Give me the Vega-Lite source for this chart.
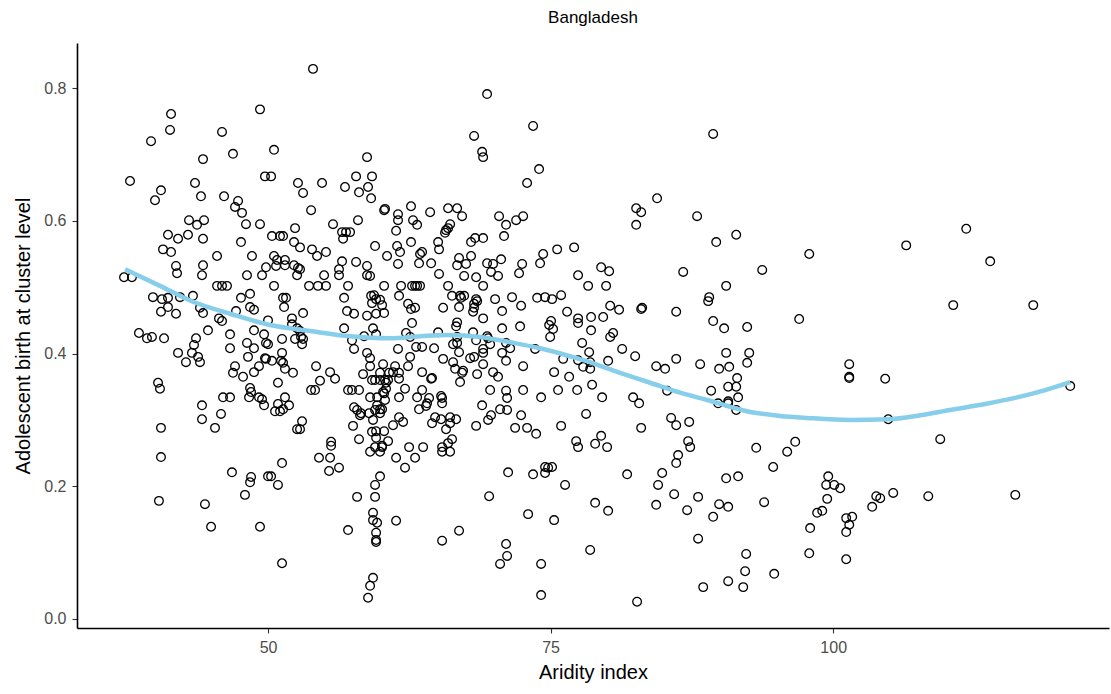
{
  "$schema": "https://vega.github.io/schema/vega-lite/v6.json",
  "autosize": {"type": "none"},
  "padding": {"left": 77, "top": 43, "right": 2, "bottom": 66},
  "width": 1032,
  "height": 585,
  "background": "white",
  "config": {
    "view": {"stroke": null},
    "font": "Liberation Sans",
    "axis": {"grid": false, "domainColor": "black", "domainWidth": 1.6, "tickColor": "#333333", "tickWidth": 1.1, "tickSize": 5, "labelColor": "#4d4d4d", "labelFontSize": 16, "labelFont": "Liberation Sans", "titleFont": "Liberation Sans", "titleFontSize": 20, "titleFontWeight": "normal", "titleColor": "black"}
  },
  "title": {"text": "Bangladesh", "fontSize": 17, "fontWeight": "normal", "font": "Liberation Sans", "color": "black", "anchor": "middle", "offset": 16},
  "datasets": {
    "points": [
      {"aridity":41.42,"abr":0.761},{"aridity":41.33,"abr":0.737},{"aridity":39.65,"abr":0.720},{"aridity":45.93,"abr":0.734},{"aridity":49.29,"abr":0.768},
      {"aridity":44.25,"abr":0.693},{"aridity":46.90,"abr":0.701},{"aridity":37.79,"abr":0.660},{"aridity":40.53,"abr":0.646},{"aridity":40.00,"abr":0.631},
      {"aridity":43.54,"abr":0.657},{"aridity":44.07,"abr":0.637},{"aridity":46.11,"abr":0.637},{"aridity":47.35,"abr":0.630},{"aridity":47.08,"abr":0.621},
      {"aridity":47.70,"abr":0.612},{"aridity":49.73,"abr":0.667},{"aridity":43.01,"abr":0.601},{"aridity":43.72,"abr":0.594},{"aridity":44.34,"abr":0.601},
      {"aridity":48.05,"abr":0.595},{"aridity":49.29,"abr":0.595},{"aridity":41.15,"abr":0.579},{"aridity":42.04,"abr":0.573},{"aridity":42.92,"abr":0.579},
      {"aridity":44.25,"abr":0.573},{"aridity":47.61,"abr":0.568},{"aridity":40.71,"abr":0.557},{"aridity":41.42,"abr":0.553},{"aridity":45.49,"abr":0.547},
      {"aridity":48.58,"abr":0.547},{"aridity":41.86,"abr":0.532},{"aridity":41.95,"abr":0.521},{"aridity":44.25,"abr":0.533},{"aridity":44.16,"abr":0.518},
      {"aridity":48.14,"abr":0.518},{"aridity":49.82,"abr":0.530},{"aridity":49.47,"abr":0.518},{"aridity":37.26,"abr":0.515},{"aridity":37.96,"abr":0.515},
      {"aridity":45.49,"abr":0.502},{"aridity":45.93,"abr":0.502},{"aridity":46.37,"abr":0.502},{"aridity":39.82,"abr":0.485},{"aridity":40.62,"abr":0.482},
      {"aridity":41.15,"abr":0.484},{"aridity":42.21,"abr":0.485},{"aridity":43.36,"abr":0.487},{"aridity":48.41,"abr":0.490},{"aridity":47.61,"abr":0.484},
      {"aridity":48.41,"abr":0.470},{"aridity":48.76,"abr":0.466},{"aridity":40.53,"abr":0.463},{"aridity":41.15,"abr":0.470},{"aridity":41.86,"abr":0.460},
      {"aridity":43.98,"abr":0.469},{"aridity":44.25,"abr":0.461},{"aridity":45.66,"abr":0.453},{"aridity":45.93,"abr":0.449},{"aridity":47.17,"abr":0.464},
      {"aridity":38.58,"abr":0.431},{"aridity":39.29,"abr":0.423},{"aridity":39.73,"abr":0.425},{"aridity":40.80,"abr":0.423},{"aridity":43.63,"abr":0.423},
      {"aridity":44.69,"abr":0.435},{"aridity":46.64,"abr":0.429},{"aridity":48.76,"abr":0.435},{"aridity":49.65,"abr":0.429},
      {"aridity":43.45,"abr":0.413},{"aridity":42.04,"abr":0.401},{"aridity":43.27,"abr":0.401},{"aridity":43.81,"abr":0.395},{"aridity":43.98,"abr":0.387},
      {"aridity":42.74,"abr":0.387},{"aridity":46.64,"abr":0.408},{"aridity":48.14,"abr":0.416},{"aridity":48.76,"abr":0.408},{"aridity":48.23,"abr":0.395},
      {"aridity":49.82,"abr":0.416},{"aridity":49.82,"abr":0.392},{"aridity":47.08,"abr":0.381},{"aridity":46.90,"abr":0.371},{"aridity":47.79,"abr":0.365},
      {"aridity":48.76,"abr":0.372},{"aridity":49.20,"abr":0.381},{"aridity":40.27,"abr":0.356},{"aridity":40.44,"abr":0.347},{"aridity":48.41,"abr":0.348},
      {"aridity":48.50,"abr":0.342},{"aridity":46.02,"abr":0.334},{"aridity":46.64,"abr":0.334},{"aridity":48.32,"abr":0.334},{"aridity":49.20,"abr":0.334},
      {"aridity":49.65,"abr":0.322},{"aridity":44.16,"abr":0.322},{"aridity":45.84,"abr":0.309},{"aridity":44.16,"abr":0.301},{"aridity":40.53,"abr":0.288},
      {"aridity":45.31,"abr":0.288},{"aridity":40.53,"abr":0.244},{"aridity":46.81,"abr":0.221},{"aridity":48.50,"abr":0.214},{"aridity":48.41,"abr":0.206},
      {"aridity":50.00,"abr":0.215},{"aridity":47.96,"abr":0.187},{"aridity":40.35,"abr":0.178},{"aridity":44.42,"abr":0.173},{"aridity":44.96,"abr":0.139},
      {"aridity":49.29,"abr":0.139},
      {"aridity":53.98,"abr":0.829},{"aridity":50.53,"abr":0.707},{"aridity":58.76,"abr":0.696},{"aridity":50.27,"abr":0.667},{"aridity":52.65,"abr":0.657},
      {"aridity":54.78,"abr":0.657},{"aridity":53.10,"abr":0.642},{"aridity":56.81,"abr":0.651},{"aridity":57.79,"abr":0.667},{"aridity":59.20,"abr":0.667},
      {"aridity":58.85,"abr":0.651},{"aridity":58.05,"abr":0.643},{"aridity":59.12,"abr":0.634},{"aridity":60.27,"abr":0.616},{"aridity":53.81,"abr":0.616},
      {"aridity":52.39,"abr":0.589},{"aridity":55.75,"abr":0.595},{"aridity":57.96,"abr":0.601},{"aridity":50.35,"abr":0.577},{"aridity":51.06,"abr":0.577},
      {"aridity":51.33,"abr":0.577},{"aridity":56.55,"abr":0.583},{"aridity":56.90,"abr":0.583},{"aridity":57.26,"abr":0.583},{"aridity":56.64,"abr":0.573},
      {"aridity":52.30,"abr":0.568},{"aridity":52.83,"abr":0.560},{"aridity":53.89,"abr":0.557},{"aridity":54.34,"abr":0.547},{"aridity":55.13,"abr":0.553},
      {"aridity":59.47,"abr":0.562},{"aridity":60.53,"abr":0.547},{"aridity":50.53,"abr":0.547},{"aridity":50.71,"abr":0.532},{"aridity":51.50,"abr":0.541},
      {"aridity":51.50,"abr":0.533},{"aridity":50.80,"abr":0.541},{"aridity":52.30,"abr":0.533},{"aridity":52.65,"abr":0.529},{"aridity":52.83,"abr":0.527},
      {"aridity":52.57,"abr":0.518},{"aridity":56.55,"abr":0.539},{"aridity":57.79,"abr":0.538},{"aridity":56.28,"abr":0.527},{"aridity":56.28,"abr":0.518},
      {"aridity":58.76,"abr":0.532},{"aridity":58.76,"abr":0.518},{"aridity":59.03,"abr":0.517},{"aridity":54.96,"abr":0.518},{"aridity":50.53,"abr":0.502},
      {"aridity":53.63,"abr":0.502},{"aridity":54.42,"abr":0.502},{"aridity":55.13,"abr":0.502},{"aridity":57.08,"abr":0.502},{"aridity":60.27,"abr":0.502},
      {"aridity":51.33,"abr":0.484},{"aridity":51.59,"abr":0.484},{"aridity":51.42,"abr":0.470},{"aridity":56.73,"abr":0.484},{"aridity":59.12,"abr":0.487},
      {"aridity":59.38,"abr":0.488},{"aridity":59.56,"abr":0.482},{"aridity":59.20,"abr":0.476},{"aridity":59.91,"abr":0.481},{"aridity":60.09,"abr":0.473},
      {"aridity":60.27,"abr":0.461},{"aridity":59.56,"abr":0.460},{"aridity":56.99,"abr":0.464},{"aridity":57.61,"abr":0.460},{"aridity":58.76,"abr":0.457},
      {"aridity":53.10,"abr":0.461},{"aridity":52.12,"abr":0.453},{"aridity":52.12,"abr":0.444},{"aridity":52.57,"abr":0.438},{"aridity":52.83,"abr":0.434},
      {"aridity":50.00,"abr":0.450},{"aridity":56.73,"abr":0.438},{"aridity":59.29,"abr":0.438},{"aridity":59.56,"abr":0.429},{"aridity":51.24,"abr":0.422},
      {"aridity":52.39,"abr":0.422},{"aridity":53.10,"abr":0.422},{"aridity":57.43,"abr":0.420},{"aridity":58.50,"abr":0.426},
      {"aridity":50.00,"abr":0.414},{"aridity":53.01,"abr":0.414},{"aridity":52.92,"abr":0.425},{"aridity":51.24,"abr":0.401},{"aridity":49.73,"abr":0.393},
      {"aridity":50.35,"abr":0.389},{"aridity":51.15,"abr":0.389},{"aridity":51.33,"abr":0.386},{"aridity":51.50,"abr":0.377},{"aridity":52.21,"abr":0.371},
      {"aridity":50.88,"abr":0.356},{"aridity":54.25,"abr":0.381},{"aridity":54.60,"abr":0.359},{"aridity":53.81,"abr":0.345},{"aridity":54.16,"abr":0.345},
      {"aridity":55.49,"abr":0.372},{"aridity":55.93,"abr":0.362},{"aridity":49.47,"abr":0.331},{"aridity":50.88,"abr":0.324},{"aridity":50.62,"abr":0.313},
      {"aridity":51.06,"abr":0.313},{"aridity":51.33,"abr":0.316},{"aridity":51.50,"abr":0.334},{"aridity":51.86,"abr":0.322},{"aridity":53.01,"abr":0.298},
      {"aridity":52.57,"abr":0.286},{"aridity":52.83,"abr":0.286},{"aridity":55.58,"abr":0.267},{"aridity":55.58,"abr":0.261},{"aridity":54.51,"abr":0.243},
      {"aridity":55.49,"abr":0.243},{"aridity":55.40,"abr":0.223},{"aridity":56.28,"abr":0.228},{"aridity":51.24,"abr":0.235},{"aridity":50.27,"abr":0.215},
      {"aridity":50.88,"abr":0.202},{"aridity":57.08,"abr":0.134},{"aridity":51.24,"abr":0.084},{"aridity":57.88,"abr":0.184},{"aridity":59.91,"abr":0.215},
      {"aridity":59.47,"abr":0.202},{"aridity":59.47,"abr":0.184},{"aridity":59.29,"abr":0.160},{"aridity":59.29,"abr":0.149},{"aridity":59.65,"abr":0.145},
      {"aridity":59.56,"abr":0.130},{"aridity":59.56,"abr":0.119},{"aridity":59.56,"abr":0.116},{"aridity":59.29,"abr":0.062},{"aridity":59.03,"abr":0.050},
      {"aridity":58.85,"abr":0.032},{"aridity":57.43,"abr":0.345},{"aridity":58.05,"abr":0.345},{"aridity":57.08,"abr":0.345},{"aridity":58.41,"abr":0.369},
      {"aridity":59.20,"abr":0.360},{"aridity":59.47,"abr":0.360},{"aridity":59.91,"abr":0.360},{"aridity":60.35,"abr":0.360},{"aridity":60.62,"abr":0.360},
      {"aridity":59.91,"abr":0.371},{"aridity":60.18,"abr":0.384},{"aridity":59.03,"abr":0.381},{"aridity":58.76,"abr":0.401},{"aridity":59.03,"abr":0.393},
      {"aridity":57.61,"abr":0.407},{"aridity":57.61,"abr":0.319},{"aridity":57.88,"abr":0.315},{"aridity":58.14,"abr":0.307},{"aridity":58.23,"abr":0.310},
      {"aridity":58.94,"abr":0.310},{"aridity":59.47,"abr":0.315},{"aridity":59.91,"abr":0.310},{"aridity":59.03,"abr":0.334},{"aridity":59.65,"abr":0.334},
      {"aridity":60.27,"abr":0.340},{"aridity":60.35,"abr":0.330},{"aridity":59.65,"abr":0.322},{"aridity":59.91,"abr":0.316},{"aridity":60.09,"abr":0.316},
      {"aridity":59.29,"abr":0.300},{"aridity":57.52,"abr":0.291},{"aridity":59.20,"abr":0.282},{"aridity":59.56,"abr":0.283},{"aridity":60.27,"abr":0.283},
      {"aridity":59.56,"abr":0.273},{"aridity":58.05,"abr":0.271},{"aridity":59.03,"abr":0.252},{"aridity":59.47,"abr":0.259},{"aridity":60.09,"abr":0.259},
      {"aridity":59.91,"abr":0.252},{"aridity":60.62,"abr":0.268},
      {"aridity":69.38,"abr":0.791},{"aridity":68.23,"abr":0.728},{"aridity":68.94,"abr":0.704},{"aridity":69.03,"abr":0.696},{"aridity":60.35,"abr":0.618},
      {"aridity":61.50,"abr":0.610},{"aridity":61.50,"abr":0.601},{"aridity":62.65,"abr":0.622},{"aridity":62.83,"abr":0.601},{"aridity":63.19,"abr":0.594},
      {"aridity":64.34,"abr":0.613},{"aridity":65.93,"abr":0.619},{"aridity":66.73,"abr":0.619},{"aridity":67.17,"abr":0.607},{"aridity":66.11,"abr":0.595},
      {"aridity":65.93,"abr":0.589},{"aridity":65.75,"abr":0.586},{"aridity":65.66,"abr":0.582},{"aridity":61.33,"abr":0.585},{"aridity":62.65,"abr":0.568},
      {"aridity":65.05,"abr":0.568},{"aridity":65.13,"abr":0.557},{"aridity":67.96,"abr":0.568},{"aridity":68.32,"abr":0.574},{"aridity":69.03,"abr":0.574},
      {"aridity":70.44,"abr":0.607},{"aridity":71.06,"abr":0.594},{"aridity":70.88,"abr":0.577},{"aridity":61.42,"abr":0.562},{"aridity":61.68,"abr":0.553},
      {"aridity":61.50,"abr":0.535},{"aridity":63.45,"abr":0.550},{"aridity":63.63,"abr":0.553},{"aridity":63.36,"abr":0.536},{"aridity":64.43,"abr":0.536},
      {"aridity":66.90,"abr":0.544},{"aridity":66.73,"abr":0.533},{"aridity":67.52,"abr":0.535},{"aridity":67.96,"abr":0.547},{"aridity":69.38,"abr":0.536},
      {"aridity":69.91,"abr":0.535},{"aridity":70.62,"abr":0.542},{"aridity":69.73,"abr":0.523},{"aridity":70.35,"abr":0.517},{"aridity":65.13,"abr":0.520},
      {"aridity":67.35,"abr":0.517},{"aridity":68.41,"abr":0.515},{"aridity":61.77,"abr":0.502},{"aridity":62.74,"abr":0.502},{"aridity":63.01,"abr":0.502},
      {"aridity":63.19,"abr":0.502},{"aridity":63.45,"abr":0.502},{"aridity":65.93,"abr":0.502},{"aridity":69.03,"abr":0.502},{"aridity":61.59,"abr":0.487},
      {"aridity":62.39,"abr":0.475},{"aridity":62.65,"abr":0.467},{"aridity":63.01,"abr":0.469},{"aridity":65.49,"abr":0.469},{"aridity":66.28,"abr":0.487},
      {"aridity":66.99,"abr":0.487},{"aridity":67.35,"abr":0.487},{"aridity":67.08,"abr":0.484},{"aridity":66.90,"abr":0.470},{"aridity":68.41,"abr":0.482},
      {"aridity":68.50,"abr":0.479},{"aridity":68.23,"abr":0.475},{"aridity":68.23,"abr":0.469},{"aridity":68.14,"abr":0.463},{"aridity":70.09,"abr":0.482},
      {"aridity":70.71,"abr":0.464},{"aridity":62.74,"abr":0.446},{"aridity":66.73,"abr":0.447},{"aridity":66.64,"abr":0.441},{"aridity":69.03,"abr":0.453},
      {"aridity":70.71,"abr":0.438},{"aridity":62.21,"abr":0.431},{"aridity":62.57,"abr":0.425},{"aridity":65.05,"abr":0.432},{"aridity":66.73,"abr":0.425},
      {"aridity":68.14,"abr":0.432},{"aridity":69.38,"abr":0.426},
      {"aridity":63.10,"abr":0.410},{"aridity":61.50,"abr":0.407},{"aridity":63.63,"abr":0.410},{"aridity":64.69,"abr":0.408},{"aridity":66.37,"abr":0.414},
      {"aridity":66.73,"abr":0.416},{"aridity":62.57,"abr":0.395},{"aridity":62.39,"abr":0.381},{"aridity":65.49,"abr":0.392},{"aridity":66.37,"abr":0.387},
      {"aridity":66.90,"abr":0.402},{"aridity":67.88,"abr":0.393},{"aridity":68.23,"abr":0.395},{"aridity":69.03,"abr":0.401},{"aridity":69.03,"abr":0.407},
      {"aridity":69.65,"abr":0.414},{"aridity":69.47,"abr":0.423},{"aridity":68.41,"abr":0.420},{"aridity":70.71,"abr":0.401},{"aridity":71.06,"abr":0.416},
      {"aridity":71.06,"abr":0.389},{"aridity":69.03,"abr":0.384},{"aridity":61.24,"abr":0.381},{"aridity":60.71,"abr":0.371},{"aridity":61.06,"abr":0.372},
      {"aridity":61.59,"abr":0.371},{"aridity":61.59,"abr":0.362},{"aridity":60.44,"abr":0.356},{"aridity":60.18,"abr":0.342},{"aridity":60.44,"abr":0.347},
      {"aridity":63.63,"abr":0.372},{"aridity":64.43,"abr":0.362},{"aridity":64.51,"abr":0.363},{"aridity":66.55,"abr":0.377},{"aridity":67.26,"abr":0.374},
      {"aridity":67.17,"abr":0.371},{"aridity":66.99,"abr":0.357},{"aridity":68.50,"abr":0.369},{"aridity":69.91,"abr":0.372},{"aridity":70.35,"abr":0.365},
      {"aridity":62.12,"abr":0.347},{"aridity":63.63,"abr":0.345},{"aridity":61.59,"abr":0.334},{"aridity":63.19,"abr":0.334},{"aridity":63.36,"abr":0.316},
      {"aridity":64.07,"abr":0.325},{"aridity":64.25,"abr":0.333},{"aridity":63.98,"abr":0.321},{"aridity":65.31,"abr":0.336},{"aridity":65.40,"abr":0.333},
      {"aridity":65.40,"abr":0.325},{"aridity":69.65,"abr":0.345},{"aridity":71.06,"abr":0.344},{"aridity":71.15,"abr":0.333},{"aridity":71.15,"abr":0.315},
      {"aridity":68.94,"abr":0.322},{"aridity":69.73,"abr":0.307},{"aridity":69.47,"abr":0.300},{"aridity":70.53,"abr":0.316},{"aridity":61.59,"abr":0.304},
      {"aridity":61.95,"abr":0.297},{"aridity":61.06,"abr":0.292},{"aridity":64.51,"abr":0.295},{"aridity":64.78,"abr":0.304},{"aridity":65.31,"abr":0.301},
      {"aridity":66.11,"abr":0.304},{"aridity":66.64,"abr":0.301},{"aridity":66.11,"abr":0.295},{"aridity":65.75,"abr":0.286},{"aridity":68.41,"abr":0.291},
      {"aridity":60.09,"abr":0.261},{"aridity":62.48,"abr":0.259},{"aridity":63.72,"abr":0.259},{"aridity":66.28,"abr":0.271},{"aridity":65.93,"abr":0.265},
      {"aridity":65.40,"abr":0.259},{"aridity":65.40,"abr":0.252},{"aridity":66.11,"abr":0.252},{"aridity":61.33,"abr":0.243},{"aridity":63.01,"abr":0.243},
      {"aridity":62.12,"abr":0.228},{"aridity":71.24,"abr":0.221},{"aridity":69.56,"abr":0.185},{"aridity":61.33,"abr":0.148},{"aridity":66.90,"abr":0.133},
      {"aridity":65.40,"abr":0.118},{"aridity":71.06,"abr":0.113},{"aridity":71.15,"abr":0.095},{"aridity":70.53,"abr":0.083},
      {"aridity":73.45,"abr":0.743},{"aridity":73.98,"abr":0.678},{"aridity":72.92,"abr":0.657},{"aridity":82.57,"abr":0.619},{"aridity":83.01,"abr":0.613},
      {"aridity":82.57,"abr":0.594},{"aridity":71.95,"abr":0.601},{"aridity":72.57,"abr":0.607},{"aridity":74.34,"abr":0.550},{"aridity":74.07,"abr":0.536},
      {"aridity":75.58,"abr":0.557},{"aridity":77.08,"abr":0.560},{"aridity":72.48,"abr":0.535},{"aridity":72.21,"abr":0.521},{"aridity":77.43,"abr":0.518},
      {"aridity":78.32,"abr":0.502},{"aridity":79.47,"abr":0.530},{"aridity":80.18,"abr":0.524},{"aridity":79.91,"abr":0.502},{"aridity":71.59,"abr":0.485},
      {"aridity":72.39,"abr":0.472},{"aridity":72.30,"abr":0.441},{"aridity":73.81,"abr":0.484},{"aridity":74.51,"abr":0.485},{"aridity":75.13,"abr":0.482},
      {"aridity":75.93,"abr":0.488},{"aridity":76.46,"abr":0.463},{"aridity":75.04,"abr":0.449},{"aridity":74.87,"abr":0.443},{"aridity":75.22,"abr":0.437},
      {"aridity":74.96,"abr":0.425},{"aridity":77.43,"abr":0.453},{"aridity":77.43,"abr":0.446},{"aridity":78.58,"abr":0.455},{"aridity":79.65,"abr":0.455},
      {"aridity":78.58,"abr":0.435},{"aridity":80.27,"abr":0.472},{"aridity":81.06,"abr":0.466},{"aridity":80.27,"abr":0.425},{"aridity":80.53,"abr":0.431},
      {"aridity":77.79,"abr":0.416},{"aridity":83.10,"abr":0.469},{"aridity":83.01,"abr":0.467},
      {"aridity":78.41,"abr":0.402},{"aridity":81.33,"abr":0.407},{"aridity":82.48,"abr":0.396},{"aridity":80.09,"abr":0.389},{"aridity":71.42,"abr":0.408},
      {"aridity":73.63,"abr":0.407},{"aridity":72.57,"abr":0.381},{"aridity":76.11,"abr":0.392},{"aridity":77.43,"abr":0.390},{"aridity":77.88,"abr":0.380},
      {"aridity":78.50,"abr":0.387},{"aridity":78.50,"abr":0.377},{"aridity":75.31,"abr":0.372},{"aridity":76.64,"abr":0.365},{"aridity":72.57,"abr":0.345},
      {"aridity":74.16,"abr":0.334},{"aridity":75.66,"abr":0.345},{"aridity":77.35,"abr":0.345},{"aridity":78.67,"abr":0.353},{"aridity":79.56,"abr":0.334},
      {"aridity":82.30,"abr":0.334},{"aridity":82.83,"abr":0.325},{"aridity":72.39,"abr":0.307},{"aridity":78.14,"abr":0.309},{"aridity":71.86,"abr":0.288},
      {"aridity":72.92,"abr":0.288},{"aridity":73.72,"abr":0.279},{"aridity":75.93,"abr":0.291},{"aridity":77.26,"abr":0.268},{"aridity":77.43,"abr":0.259},
      {"aridity":78.94,"abr":0.264},{"aridity":79.47,"abr":0.276},{"aridity":80.00,"abr":0.259},{"aridity":83.01,"abr":0.288},{"aridity":73.45,"abr":0.218},
      {"aridity":74.51,"abr":0.229},{"aridity":74.51,"abr":0.220},{"aridity":74.78,"abr":0.228},{"aridity":75.13,"abr":0.229},{"aridity":76.28,"abr":0.202},
      {"aridity":81.77,"abr":0.218},{"aridity":78.94,"abr":0.175},{"aridity":80.09,"abr":0.163},{"aridity":73.01,"abr":0.158},{"aridity":75.31,"abr":0.149},
      {"aridity":74.16,"abr":0.083},{"aridity":78.50,"abr":0.104},{"aridity":74.16,"abr":0.036},{"aridity":82.65,"abr":0.026},
      {"aridity":89.38,"abr":0.731},{"aridity":84.42,"abr":0.634},{"aridity":87.96,"abr":0.607},{"aridity":89.65,"abr":0.568},{"aridity":91.42,"abr":0.579},
      {"aridity":97.88,"abr":0.550},{"aridity":86.73,"abr":0.523},{"aridity":93.72,"abr":0.526},{"aridity":90.53,"abr":0.502},{"aridity":89.03,"abr":0.485},
      {"aridity":88.94,"abr":0.479},{"aridity":86.11,"abr":0.463},{"aridity":89.38,"abr":0.449},{"aridity":90.35,"abr":0.438},{"aridity":92.39,"abr":0.440},
      {"aridity":96.99,"abr":0.452},
      {"aridity":90.53,"abr":0.401},{"aridity":92.57,"abr":0.401},{"aridity":92.39,"abr":0.386},{"aridity":84.34,"abr":0.381},{"aridity":85.13,"abr":0.377},
      {"aridity":86.11,"abr":0.392},{"aridity":88.23,"abr":0.384},{"aridity":89.91,"abr":0.377},{"aridity":90.80,"abr":0.380},{"aridity":91.50,"abr":0.363},
      {"aridity":90.71,"abr":0.350},{"aridity":91.42,"abr":0.350},{"aridity":91.59,"abr":0.334},{"aridity":89.20,"abr":0.344},{"aridity":85.31,"abr":0.344},
      {"aridity":89.82,"abr":0.325},{"aridity":90.71,"abr":0.328},{"aridity":90.71,"abr":0.325},{"aridity":91.42,"abr":0.315},{"aridity":101.42,"abr":0.384},
      {"aridity":101.42,"abr":0.365},{"aridity":101.42,"abr":0.363},{"aridity":85.66,"abr":0.303},{"aridity":86.11,"abr":0.292},{"aridity":87.26,"abr":0.297},
      {"aridity":87.17,"abr":0.268},{"aridity":87.35,"abr":0.259},{"aridity":86.28,"abr":0.247},{"aridity":86.11,"abr":0.235},{"aridity":93.19,"abr":0.258},
      {"aridity":96.64,"abr":0.267},{"aridity":95.93,"abr":0.252},{"aridity":94.69,"abr":0.229},{"aridity":84.87,"abr":0.220},{"aridity":84.51,"abr":0.202},
      {"aridity":85.93,"abr":0.188},{"aridity":84.34,"abr":0.172},{"aridity":87.08,"abr":0.164},{"aridity":88.05,"abr":0.184},{"aridity":90.53,"abr":0.212},
      {"aridity":91.59,"abr":0.215},{"aridity":89.91,"abr":0.173},{"aridity":90.71,"abr":0.169},{"aridity":89.38,"abr":0.154},{"aridity":93.89,"abr":0.176},
      {"aridity":99.56,"abr":0.215},{"aridity":99.38,"abr":0.202},{"aridity":100.09,"abr":0.202},{"aridity":100.62,"abr":0.197},{"aridity":99.47,"abr":0.181},
      {"aridity":98.58,"abr":0.160},{"aridity":99.03,"abr":0.163},{"aridity":97.96,"abr":0.137},{"aridity":101.15,"abr":0.152},{"aridity":101.68,"abr":0.154},
      {"aridity":101.42,"abr":0.142},{"aridity":101.15,"abr":0.131},{"aridity":88.05,"abr":0.121},{"aridity":92.30,"abr":0.098},{"aridity":92.21,"abr":0.072},
      {"aridity":90.71,"abr":0.057},{"aridity":88.50,"abr":0.048},{"aridity":92.04,"abr":0.048},{"aridity":94.78,"abr":0.068},{"aridity":97.88,"abr":0.099},
      {"aridity":101.15,"abr":0.090},
      {"aridity":106.46,"abr":0.563},{"aridity":111.77,"abr":0.588},{"aridity":113.89,"abr":0.539},{"aridity":110.62,"abr":0.473},{"aridity":117.70,"abr":0.473},
      {"aridity":104.60,"abr":0.362},{"aridity":104.87,"abr":0.301},{"aridity":109.47,"abr":0.271},{"aridity":120.97,"abr":0.351},{"aridity":103.81,"abr":0.185},
      {"aridity":104.16,"abr":0.182},{"aridity":105.31,"abr":0.190},{"aridity":103.45,"abr":0.169},{"aridity":108.41,"abr":0.185},{"aridity":116.11,"abr":0.187}
    ],
    "smooth": [
      {"aridity":37.35,"abr":0.527},{"aridity":40.44,"abr":0.502},{"aridity":43.36,"abr":0.478},{"aridity":46.64,"abr":0.460},{"aridity":50.18,"abr":0.443},
      {"aridity":53.72,"abr":0.434},{"aridity":57.26,"abr":0.426},{"aridity":60.80,"abr":0.423},{"aridity":63.45,"abr":0.426},{"aridity":65.84,"abr":0.428},
      {"aridity":68.76,"abr":0.425},{"aridity":71.42,"abr":0.417},{"aridity":74.07,"abr":0.408},{"aridity":77.88,"abr":0.390},{"aridity":81.15,"abr":0.371},
      {"aridity":83.81,"abr":0.356},{"aridity":86.46,"abr":0.341},{"aridity":88.85,"abr":0.330},{"aridity":92.65,"abr":0.312},{"aridity":95.31,"abr":0.306},
      {"aridity":97.70,"abr":0.303},{"aridity":101.50,"abr":0.300},{"aridity":104.87,"abr":0.301},{"aridity":107.70,"abr":0.307},{"aridity":110.35,"abr":0.315},
      {"aridity":113.45,"abr":0.324},{"aridity":116.28,"abr":0.334},{"aridity":118.76,"abr":0.345},{"aridity":120.97,"abr":0.357}
    ]
  },
  "encoding": {
    "x": {"field": "aridity", "type": "quantitative", "scale": {"domain": [33.1, 124.4], "nice": false, "zero": false},
          "axis": {"title": "Aridity index", "values": [50, 75, 100], "labelPadding": 6, "titlePadding": 7}},
    "y": {"field": "abr", "type": "quantitative", "scale": {"domain": [-0.0136, 0.868], "nice": false, "zero": false},
          "axis": {"title": "Adolescent birth at cluster level", "values": [0, 0.2, 0.4, 0.6, 0.8], "format": ".1f", "labelPadding": 6, "titlePadding": 10}}
  },
  "layer": [
    {"data": {"name": "points"}, "mark": {"type": "point", "shape": "circle", "filled": false, "stroke": "black", "strokeWidth": 1.3, "size": 75, "opacity": 1}},
    {"data": {"name": "smooth"}, "mark": {"type": "line", "color": "#87CEEB", "strokeWidth": 4.5, "interpolate": "monotone"}}
  ]
}
